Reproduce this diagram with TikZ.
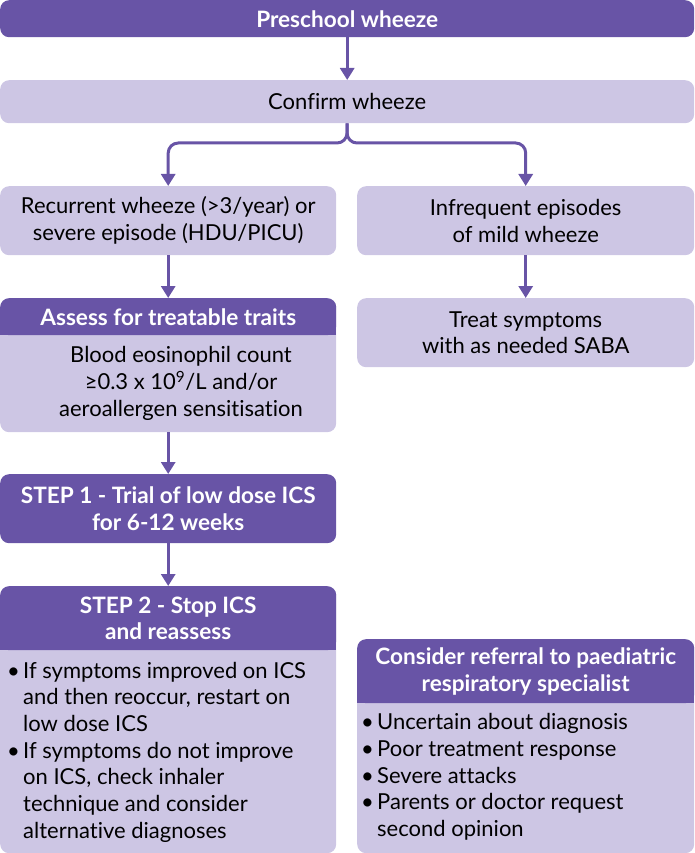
\documentclass[tikz,border=0pt]{standalone}
\usepackage{fontspec}
\setmainfont[Ligatures=NoCommon]{Lato}
\usetikzlibrary{positioning}
\usetikzlibrary{arrows.meta}

\definecolor{wzdark}{RGB}{104,84,166}
\definecolor{wzlight}{RGB}{205,198,228}

\tikzset{
  hdr/.style={fill=wzdark,text=white,rounded corners=9pt,inner sep=0pt,align=center,
    font=\fontsize{22.6}{26.7}\selectfont\bfseries},
  pale/.style={fill=wzlight,rounded corners=9pt,inner sep=0pt,align=center,
    font=\fontsize{22}{26.7}\selectfont},
  txt/.style={inner sep=0pt,font=\fontsize{22}{26.7}\selectfont},
  flow/.style={draw=wzdark,line width=3pt,-{Triangle[width=14pt,length=12pt]}}
}
\newcommand{\bul}{\makebox[16pt][l]{\textbullet}}
\newcommand{\bulind}{\hspace*{16pt}}

\begin{document}
\begin{tikzpicture}[x=1pt,y=-1pt]
 \useasboundingbox (0,0) rectangle (694,853);
 % top row
 \node[hdr,minimum width=694pt,minimum height=37pt,anchor=north west] (pre) at (0,0) {Preschool wheeze};
 \node[pale,minimum width=694pt,minimum height=43pt,anchor=north west] (conf) at (0,80) {Confirm wheeze};
 \node[pale,minimum width=336pt,minimum height=69pt,anchor=north west] (recur) at (0,186)
   {Recurrent wheeze (>3/year) or\\severe episode (HDU/PICU)};
 \node[pale,minimum width=337pt,minimum height=69pt,anchor=north west] (infreq) at (357,186)
   {Infrequent episodes\\of mild wheeze};
 % assess box
 \node[pale,minimum width=336pt,minimum height=134pt,anchor=north west] (assess) at (0,298) {};
 \fill[wzdark] (0,323) rectangle (336,335);
 \node[hdr,minimum width=336pt,minimum height=37pt,anchor=north west] (assesshdr) at (0,298)
   {Assess for treatable traits};
 \node[txt,align=center] (traits) at (181,383.5)
   {Blood eosinophil count\\≥0.3 x 10\textsuperscript{9}/L and/or\\aeroallergen sensitisation};
 \node[pale,minimum width=337pt,minimum height=69pt,anchor=north west] (treat) at (357,298)
   {Treat symptoms\\with as needed SABA};
 % steps
 \node[hdr,minimum width=336pt,minimum height=69pt,anchor=north west] (step1) at (0,474)
   {STEP 1 - Trial of low dose ICS\\for 6-12 weeks};
 \node[pale,minimum width=336pt,minimum height=267pt,anchor=north west] (step2) at (0,586) {};
 \fill[wzdark] (0,638) rectangle (336,650);
 \node[hdr,minimum width=336pt,minimum height=64pt,anchor=north west] (step2hdr) at (0,586)
   {STEP 2 - Stop ICS\\and reassess};
 \node[txt,align=left,anchor=west] (step2txt) at (7,752)
   {\bul If symptoms improved on ICS\\\bulind and then reoccur, restart on\\\bulind low dose ICS\\
    \bul If symptoms do not improve\\\bulind on ICS, check inhaler\\\bulind technique and consider\\
    \bulind alternative diagnoses};
 % referral
 \node[pale,minimum width=337pt,minimum height=214pt,anchor=north west] (refer) at (357,639) {};
 \fill[wzdark] (357,691) rectangle (694,703);
 \node[hdr,minimum width=337pt,minimum height=64pt,anchor=north west] (referhdr) at (357,639)
   {Consider referral to paediatric\\respiratory specialist};
 \node[txt,align=left,anchor=west] (refertxt) at (361,777)
   {\bul Uncertain about diagnosis\\\bul Poor treatment response\\\bul Severe attacks\\
    \bul Parents or doctor request\\\bulind second opinion};
 % connectors
 \coordinate (split) at (347,143);
 \draw[flow] (pre) -- (conf);
 \draw[flow,rounded corners=10pt] (conf.south) -- (split) -| (recur.north);
 \draw[flow,rounded corners=10pt] (conf.south) -- (split) -| (infreq.north);
 \draw[flow] (recur) -- (assess);
 \draw[flow] (infreq) -- (treat);
 \draw[flow] (assess) -- (step1);
 \draw[flow] (step1) -- (step2);
\end{tikzpicture}
\end{document}
